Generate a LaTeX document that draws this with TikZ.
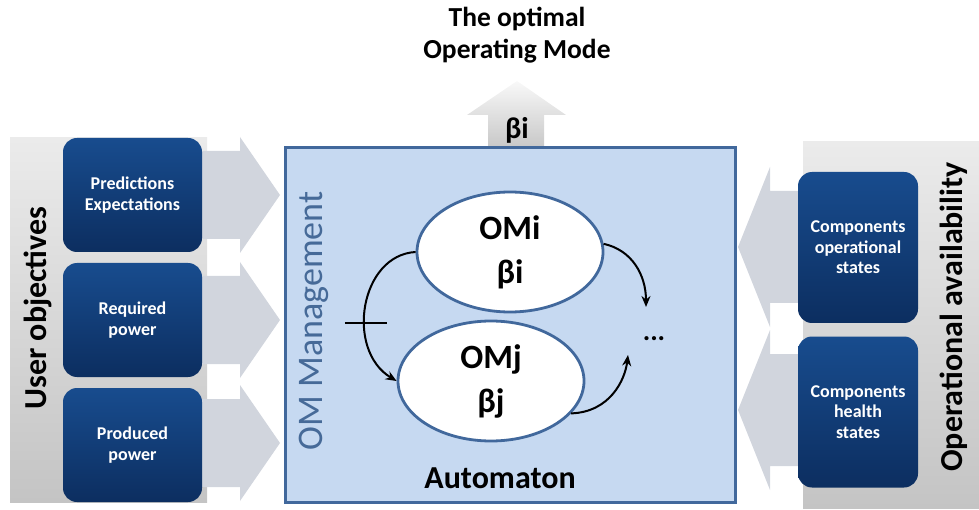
\documentclass[tikz,border=0pt]{standalone}
\usepackage{fontspec}
\setmainfont{Carlito}
\usetikzlibrary{arrows.meta,shapes.geometric}
\definecolor{panellight}{RGB}{235,235,235}
\definecolor{paneldark}{RGB}{196,196,196}
\definecolor{flowgray}{RGB}{209,213,221}
\definecolor{omfill}{RGB}{198,217,241}
\definecolor{omline}{RGB}{65,104,156}
\definecolor{boxtop}{RGB}{24,76,142}
\definecolor{boxbot}{RGB}{12,46,96}
\definecolor{omtext}{RGB}{70,106,152}

\begin{document}
\begin{tikzpicture}[x=1pt,y=-1pt,>={Stealth[length=11pt,width=9pt]},
  panel/.style={top color=panellight,bottom color=paneldark},
  flow/.style={fill=flowgray},
  inbox/.style={rounded corners=14pt,top color=boxtop,bottom color=boxbot,
    text=white,align=center,font=\fontsize{18}{20.5}\selectfont\bfseries},
  side/.style={rotate=90,font=\fontsize{32}{38}\selectfont\bfseries},
  mode/.style={ellipse,draw=omline,line width=2.8pt,fill=white,inner sep=0pt,
    minimum width=186pt,minimum height=120pt,align=center,
    font=\fontsize{34}{44}\selectfont\bfseries},
  link/.style={->,line width=2pt}]
  \useasboundingbox (0,0) rectangle (979,510);
  \shade[panel] (10,138) rectangle (207,502);
  \shade[panel] (803,142) rectangle (979,508);
  \node[side] (uobj) at (38,308) {User objectives};
  \node[side] (oavail) at (954,317) {Operational availability};
  \foreach \y in {195,320,443}
    \fill[flow] (200,\y-44) -- (240,\y-44) -- (240,\y-58) -- (280,\y)
      -- (240,\y+58) -- (240,\y+44) -- (200,\y+44) -- cycle;
  \foreach \y in {247,410}
    \fill[flow] (805,\y-56) -- (770,\y-56) -- (770,\y-80) -- (738,\y)
      -- (770,\y+80) -- (770,\y+56) -- (805,\y+56) -- cycle;
  \node[inbox,minimum width=139pt,minimum height=114pt] (pred) at (132.5,195)
    {Predictions\\Expectations};
  \node[inbox,minimum width=139pt,minimum height=114pt] (req) at (132.5,320)
    {Required\\power};
  \node[inbox,minimum width=139pt,minimum height=114pt] (prod) at (132.5,445)
    {Produced\\power};
  \node[inbox,minimum width=120pt,minimum height=151pt] (opst) at (858,247.5)
    {Components\\operational\\states};
  \node[inbox,minimum width=120pt,minimum height=151pt] (hlth) at (858,412)
    {Components\\health\\states};
  \shade[top color=gray!5,bottom color=gray!45] (488,150) -- (488,115)
    -- (467,115) -- (517,81) -- (566,115) -- (544,115) -- (544,150) -- cycle;
  \node[font=\fontsize{30}{36}\selectfont\bfseries] (beta) at (517,130) {βi};
  \node[align=center,font=\fontsize{27.5}{32}\selectfont\bfseries] (title)
    at (517,35) {The optimal\\Operating Mode};
  \node[draw=omline,line width=3pt,fill=omfill,minimum width=450pt,
    minimum height=354pt] (auto) at (510,325) {};
  \node[rotate=90,text=omtext,font=\fontsize{36}{42}\selectfont] (omm)
    at (314,321) {OM Management};
  \node[font=\fontsize{32}{38}\selectfont\bfseries] (autom) at (500,478)
    {Automaton};
  \node[mode] (omi) at (510,252) {OMi\\βi};
  \node[mode] (omj) at (491,381) {OMj\\βj};
  \node[font=\fontsize{28}{34}\selectfont\bfseries] (dots) at (654,339) {...};
  \coordinate (ntop) at (646,307);
  \coordinate (nbot) at (628,355);
  \draw[link] (omi.west) .. controls (360,255) and (345,350) .. (omj.west)
    coordinate[pos=.6] (cut);
  \draw[line width=1.4pt] ([xshift=-20pt]cut) -- ([xshift=22pt]cut);
  \draw[link] (omi.5) .. controls (632,250) and (646,275) .. (ntop);
  \draw[link] (omj.-22) .. controls (610,412) and (625,380) .. (nbot);
\end{tikzpicture}
\end{document}
